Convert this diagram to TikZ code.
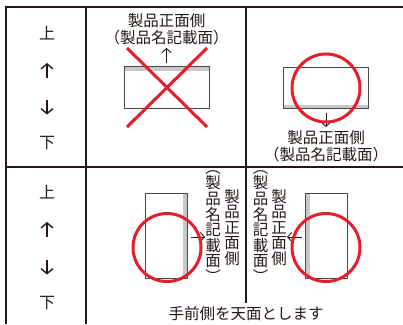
\documentclass[tikz,border=0pt]{standalone}
\usepackage{fontspec}
\newfontfamily\jp{Noto Sans CJK JP}
\usetikzlibrary{arrows.meta}
\definecolor{ink}{RGB}{35,24,21}
\definecolor{mark}{RGB}{228,30,42}
\definecolor{band}{RGB}{200,200,200}
\begin{document}
\begin{tikzpicture}[x=1pt,y=-1pt,
  grid/.style={draw=ink, line width=1.2pt},
  jptext/.style={font=\jp\fontsize{15.5}{17}\selectfont, text=ink, inner sep=0pt, align=center},
  vtext/.style={font=\jp\fontsize{15.5}{15.6}\selectfont, text=ink, inner sep=0pt, align=center},
  dirtext/.style={font=\jp\fontsize{16}{16}\selectfont, text=ink, inner sep=0pt},
  card/.style={draw=ink!80, line width=0.9pt, fill=white, inner sep=0pt, outer sep=0pt},
  wide/.style={card, minimum width=85pt, minimum height=41.5pt},
  tall/.style={card, minimum width=42pt, minimum height=85pt},
  bandtop/.style={path picture={\fill[band] (path picture bounding box.north west) rectangle ([yshift=-4pt]path picture bounding box.north east);}},
  bandbottom/.style={path picture={\fill[band] (path picture bounding box.south west) rectangle ([yshift=4pt]path picture bounding box.south east);}},
  bandleft/.style={path picture={\fill[band] (path picture bounding box.south west) rectangle ([xshift=4pt]path picture bounding box.north west);}},
  bandright/.style={path picture={\fill[band] (path picture bounding box.south east) rectangle ([xshift=-4pt]path picture bounding box.north east);}},
  arr/.style={draw=ink, line width=0.9pt, -{Straight Barb[length=4pt,width=9pt,line width=0.9pt]}},
  dirarr/.style={draw=ink, line width=1.4pt, -{Straight Barb[length=5pt,width=12pt,line width=1.4pt]}},
  redline/.style={draw=mark, line width=3pt},
  ring/.style={circle, draw=mark, line width=3pt, minimum size=68pt, inner sep=0pt},
]
\useasboundingbox (0,0) rectangle (403,324);

% table
\draw[grid] (403,7) -- (6,7) -- (6,324);
\draw[grid] (86,7) -- (86,324);
\draw[grid] (246,7) -- (246,303);
\draw[grid] (6,167) -- (403,167);

% direction column
\node[dirtext] (u1) at (47,33) {上};
\coordinate (au1s) at (47,77.5); \coordinate (au1e) at (47,63);
\draw[dirarr] (au1s) -- (au1e);
\coordinate (ad1s) at (47,100); \coordinate (ad1e) at (47,114.5);
\draw[dirarr] (ad1s) -- (ad1e);
\node[dirtext] (d1) at (47,143) {下};
\node[dirtext] (u2) at (47,192.5) {上};
\coordinate (au2s) at (47,236.5); \coordinate (au2e) at (47,222);
\draw[dirarr] (au2s) -- (au2e);
\coordinate (ad2s) at (47,260); \coordinate (ad2e) at (47,274.5);
\draw[dirarr] (ad2s) -- (ad2e);
\node[dirtext] (d2) at (47,303) {下};

% top-left: wrong
\node[wide, bandtop] (r1) at (166.5,87.5) {};
\node[jptext] (t1) at (166.5,29.5) {製品正面側\\（製品名記載面）};
\coordinate (a1) at (166.5,48);
\draw[arr] ([yshift=4pt]r1.north) -- (a1);
\draw[redline] (127,48) -- (207,127);
\draw[redline] (207,48) -- (127,127);

% top-right: correct
\node[wide, bandbottom] (r2) at (326,88) {};
\node[jptext] (t2) at (326,146.5) {製品正面側\\（製品名記載面）};
\coordinate (a2) at (326,127);
\draw[arr] ([yshift=-4pt]r2.south) -- (a2);
\node[ring] (c2) at (326,88) {};

% bottom-left
\node[tall, bandright] (r3) at (166,235.5) {};
\node[vtext] (v3a) at (232,227.5) {製\\品\\正\\面\\側};
\node[vtext] (v3b) at (213,226.5) {︵\\製\\品\\名\\記\\載\\面\\︶};
\coordinate (a3) at (205,237);
\draw[arr] ([xshift=4pt]r3.east |- a3) -- (a3);
\node[ring] (c3) at (167,247.5) {};

% bottom-right
\node[tall, bandleft] (r4) at (326.5,236) {};
\node[vtext] (v4a) at (279,227.5) {製\\品\\正\\面\\側};
\node[vtext] (v4b) at (260.5,226.5) {︵\\製\\品\\名\\記\\載\\面\\︶};
\coordinate (a4) at (287,237);
\draw[arr] ([xshift=-4pt]r4.west |- a4) -- (a4);
\node[ring] (c4) at (326,247.5) {};

% note
\node[jptext] (note) at (246,314) {手前側を天面とします};
\end{tikzpicture}
\end{document}
